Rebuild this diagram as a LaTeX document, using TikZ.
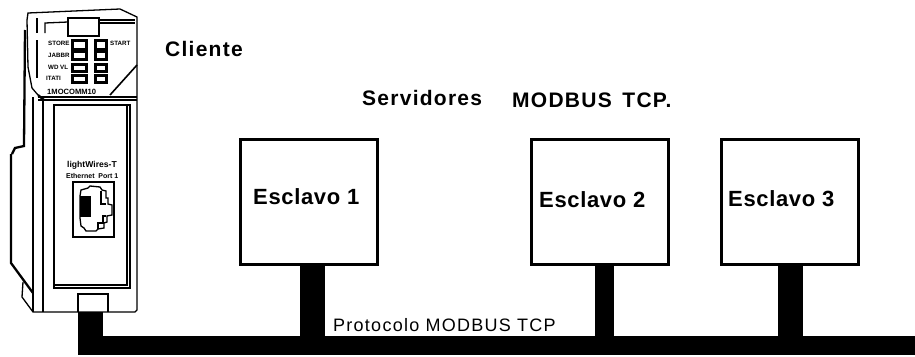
\documentclass[tikz,border=0pt]{standalone}
\usepackage{fontspec}
\setmainfont{Liberation Sans}
\begin{document}
\begin{tikzpicture}[x=1pt,y=-1pt,
  esclavo/.style={draw=black,line width=2.6pt,fill=white,inner sep=0pt,minimum width=137pt,minimum height=125pt},
  busbar/.style={fill=black,draw=none,inner sep=0pt,minimum width=837pt,minimum height=19pt},
  stem/.style={line width=#1,draw=black},
  lbl/.style n args={2}{anchor=base west,inner sep=0pt,font=\bfseries\fontsize{#1}{#1}\selectfont\addfontfeature{LetterSpace=#2}},
  plain/.style n args={2}{anchor=base west,inner sep=0pt,font=\fontsize{#1}{#1}\selectfont\addfontfeature{LetterSpace=#2}},
  tiny/.style={anchor=base west,inner sep=0pt,font=\bfseries\fontsize{#1}{#1}\selectfont},
  thin line/.style={draw=black,line width=1.3pt,line join=miter},
  thick line/.style={draw=black,line width=2.3pt,line join=miter},
  led/.style={draw=black,line width=3pt,fill=white}]
\useasboundingbox (0,0) rectangle (915,356);
\fill[white] (0,0) rectangle (915,356);

% bus and slaves
\node[busbar,anchor=north west] (bus) at (78,336) {};
\node[esclavo,anchor=north west] (e1) at (239,138) {};
\node[esclavo,anchor=north west] (e2) at (530,138) {};
\node[esclavo,anchor=north west] (e3) at (720,138) {};
\draw[stem=25pt] ([xshift=4pt]e1.south) -- ([xshift=4pt]e1.south |- bus.north);
\draw[stem=19pt] ([xshift=4.5pt]e2.south) -- ([xshift=4.5pt]e2.south |- bus.north);
\draw[stem=25pt] ([xshift=0.5pt]e3.south) -- ([xshift=0.5pt]e3.south |- bus.north);

% texts
\node[lbl={21}{6}] (tcli) at (165,56) {Cliente};
\node[lbl={21}{6}] (tser) at (362,105) {Servidores};
\node[lbl={21}{6}] (tmod) at (512,107) {MODBUS\, TCP.};
\node[lbl={22}{3}] (t1) at (253,204) {Esclavo 1};
\node[lbl={22}{3}] (t2) at (539,207) {Esclavo 2};
\node[lbl={22}{3}] (t3) at (728,206) {Esclavo 3};
\node[plain={18}{7}] (tpro) at (333,331) {Protocolo MODBUS TCP};

% device: outline
\draw[thin line] (27,20) -- (28,13) -- (120,9) -- (137,17) -- (137,310) -- (135,312) -- (33,312)
  -- (22,297) -- (23,282);
\draw[thin line] (27,20) -- (28,67) -- (32,88) -- (38,95);
\draw[thick line] (25,30) -- (24,146) -- (15,148) -- (12,154);
\draw[thick line] (11,154) -- (11,263) -- (33,293);
\draw[thin line] (33,97) -- (33,312);
\draw[thin line] (43,100) -- (43,312);
\draw[thin line] (38,97) -- (137,97);
\draw[thin line] (38,100) -- (137,100);
\draw[thick line] (38,95) -- (44,100);
% inner window
\draw[thin line,line width=1.6pt] (54,288) -- (54,105) -- (130,105) -- (130,288) -- cycle;
\draw[thin line] (54,285) -- (127,285) -- (127,105);
% top parts
\draw[thick line,line width=2.6pt,fill=white] (68,18) rectangle (99,36);
\draw[thin line] (45,33) -- (45,23) -- (68,22);
\draw[thin line] (99,20) -- (135,20);
\draw[thin line] (99,23) -- (135,23);
\draw[thick line] (37,18) -- (37,33);
\draw[thick line] (37,40) -- (37,78);
\draw[thin line,line width=1.6pt] (110,95) -- (137,65);
% leds
\foreach \xa/\xb in {72/86,95/106}{
  \draw[led] (\xa,40) rectangle (\xb,49);
  \draw[led] (\xa,51) rectangle (\xb,59);
  \draw[led] (\xa,64) rectangle (\xb,71);
  \draw[led] (\xa,75) rectangle (\xb,82);
}
\node[tiny=6.2] (l1) at (48,45) {STORE};
\node[tiny=6.2] (l2) at (48,57) {JABBR};
\node[tiny=6.2] (l3) at (48,69) {WD VL};
\node[tiny=6.2] (l4) at (46,80) {ITATI};
\node[tiny=6.2] (l5) at (110,45) {START};
\node[tiny=7.6] (l6) at (47,94) {1MOCOMM10};
\node[tiny=8.6] (l7) at (67,167) {lightWires-T};
\node[tiny=7] (l8) at (66,178) {Ethernet\ \ Port 1};
% jack
\draw[thick line,line width=2.6pt] (73,182) rectangle (114,237);
\draw[thin line,fill=white] (80,196) -- (81,190) -- (88,188) -- (90,186) -- (100,187) -- (102,190) -- (106,191) -- (106,198) -- (108,198) -- (108,204) -- (112,205) -- (112,215) -- (107,216) -- (107,222) -- (104,223) -- (104,228) -- (98,229) -- (96,231) -- (86,231) -- (84,228) -- (81,226) -- (80,218) -- cycle;
\draw[thin line] (101,191) -- (101,204) -- (106,204);
\draw[thin line] (106,216) -- (103,216) -- (103,223) -- (98,223) -- (98,229);
\fill[black] (80,196) rectangle (91,217);
% connector
\draw[thick line,line width=2.6pt] (78,312) -- (78,294) -- (108,294) -- (108,312);
\fill[black] (78,312) rectangle (103,340);
\end{tikzpicture}
\end{document}
